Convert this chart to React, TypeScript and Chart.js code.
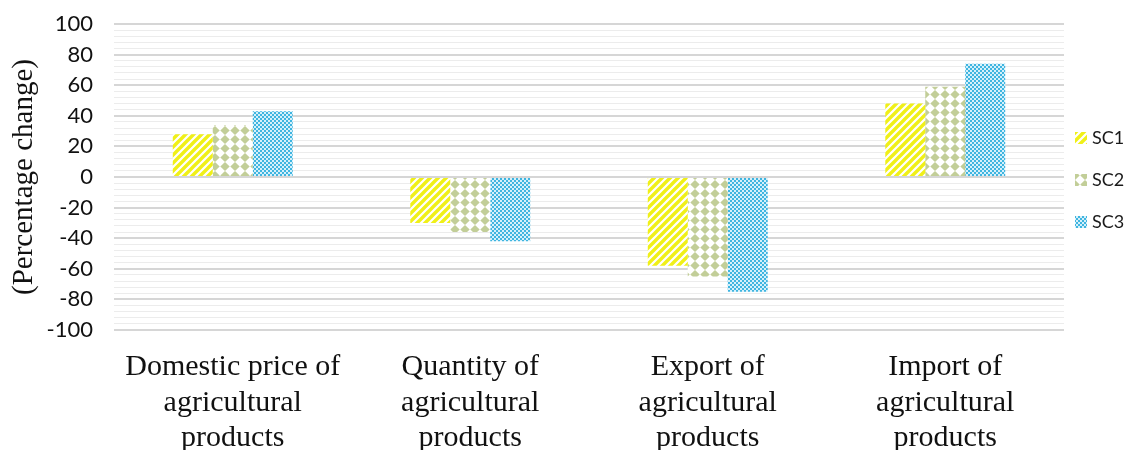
import React, { useEffect, useRef } from "react";
import { Chart, registerables } from "chart.js";

Chart.register(...registerables);

const categories: string[][] = [
  ["Domestic price of", "agricultural", "products"],
  ["Quantity of", "agricultural", "products"],
  ["Export of", "agricultural", "products"],
  ["Import of", "agricultural", "products"],
];
const seriesNames = ["SC1", "SC2", "SC3"];
const sc1 = [28, -30, -58, 48];
const sc2 = [34, -36, -65, 59];
const sc3 = [43, -42, -75, 74];
const yMin = -100;
const yMax = 100;
const yStep = 4;
const yLabelEvery = 20;

function makeTile(w: number, h: number, draw: (c: CanvasRenderingContext2D) => void): CanvasPattern {
  const cv = document.createElement("canvas");
  cv.width = w;
  cv.height = h;
  const c = cv.getContext("2d")!;
  c.fillStyle = "#ffffff";
  c.fillRect(0, 0, w, h);
  draw(c);
  const p = document.createElement("canvas").getContext("2d")!.createPattern(cv, "repeat")!;
  return p;
}

function stripes(): CanvasPattern {
  const s = 8;
  return makeTile(s, s, (c) => {
    c.strokeStyle = "#f0f018";
    c.lineWidth = 3.4;
    c.beginPath();
    c.moveTo(-s, 2 * s);
    c.lineTo(2 * s, -s);
    c.moveTo(-s, s);
    c.lineTo(s, -s);
    c.moveTo(0, 2 * s);
    c.lineTo(2 * s, 0);
    c.stroke();
  });
}

function diamonds(): CanvasPattern {
  const w = 10;
  const h = 9;
  return makeTile(w, h, (c) => {
    c.fillStyle = "#c2ce98";
    c.beginPath();
    c.moveTo(w / 2, 0.1);
    c.lineTo(w - 0.3, h / 2);
    c.lineTo(w / 2, h - 0.1);
    c.lineTo(0.3, h / 2);
    c.closePath();
    c.fill();
  });
}

function checker(): CanvasPattern {
  return makeTile(4, 4, (c) => {
    c.fillStyle = "#3fb5e0";
    c.fillRect(0, 0, 4, 4);
    c.fillStyle = "#d6f0fa";
    c.fillRect(0, 0, 2, 2);
    c.fillRect(2, 2, 2, 2);
  });
}

const legendPlugin = {
  id: "sideLegend",
  afterDraw(chart: any) {
    const { ctx, chartArea } = chart;
    const mid = (chartArea.top + chartArea.bottom) / 2 + 3;
    const gap = 42;
    const n = chart.data.datasets.length;
    ctx.save();
    chart.data.datasets.forEach((ds: any, i: number) => {
      const cy = mid + (i - (n - 1) / 2) * gap;
      const x = chartArea.right + 11;
      ctx.fillStyle = ds.backgroundColor;
      ctx.fillRect(x, cy - 6, 12, 12);
      ctx.fillStyle = "#1a1a1a";
      ctx.font = "18px Lato";
      ctx.textBaseline = "middle";
      ctx.textAlign = "left";
      ctx.fillText(ds.label, x + 17, cy);
    });
    ctx.restore();
  },
};

export default function App() {
  const ref = useRef<HTMLCanvasElement>(null);
  useEffect(() => {
    document.body.style.margin = "0";
    const pats = [stripes(), diamonds(), checker()];
    const values = [sc1, sc2, sc3];
    const chart = new Chart(ref.current!, {
      type: "bar",
      data: {
        labels: categories,
        datasets: seriesNames.map((name, i) => ({
          label: name,
          data: values[i],
          backgroundColor: pats[i] as any,
          borderWidth: 0,
          barPercentage: 1,
          categoryPercentage: 0.505,
        })),
      },
      options: {
        animation: false,
        responsive: false,
        maintainAspectRatio: false,
        layout: { padding: { top: 24, right: 68, bottom: 0, left: 0 } },
        plugins: {
          legend: { display: false },
          tooltip: { enabled: false },
        },
        scales: {
          x: {
            afterFit(scale: any) {
              scale.height = 120;
            },
            grid: { display: false },
            border: { display: false },
            ticks: {
              color: "#111",
              font: { family: "Liberation Serif", size: 30, lineHeight: 1.17 },
              padding: 12,
              maxRotation: 0,
              autoSkip: false,
            },
          },
          y: {
            min: yMin,
            max: yMax,
            afterFit(scale: any) {
              scale.width = 114;
            },
            border: { display: false },
            grid: {
              drawTicks: true,
              tickLength: 19,
              tickColor: "rgba(0,0,0,0)",
              color: (ctx: any) =>
                Math.round(ctx.tick.value) % yLabelEvery === 0 ? "#d6d6d6" : "#ececec",
              lineWidth: (ctx: any) =>
                Math.round(ctx.tick.value) % yLabelEvery === 0 ? 2 : 1,
            },
            ticks: {
              stepSize: yStep,
              autoSkip: false,
              color: "#111",
              padding: 2,
              font: { family: "Lato", size: 22 },
              callback: (v: any) =>
                Math.round(Number(v)) % yLabelEvery === 0 ? String(Math.round(Number(v))) : "",
            },
            title: {
              display: true,
              text: "(Percentage change)",
              color: "#111",
              font: { family: "Liberation Serif", size: 29 },
              padding: { top: 7, bottom: 3 },
            },
          },
        },
      },
      plugins: [legendPlugin],
    });
    return () => chart.destroy();
  }, []);
  return (
    <div style={{ width: 1132, height: 450 }}>
      <canvas ref={ref} width={1132} height={450} style={{ display: "block" }} />
    </div>
  );
}
